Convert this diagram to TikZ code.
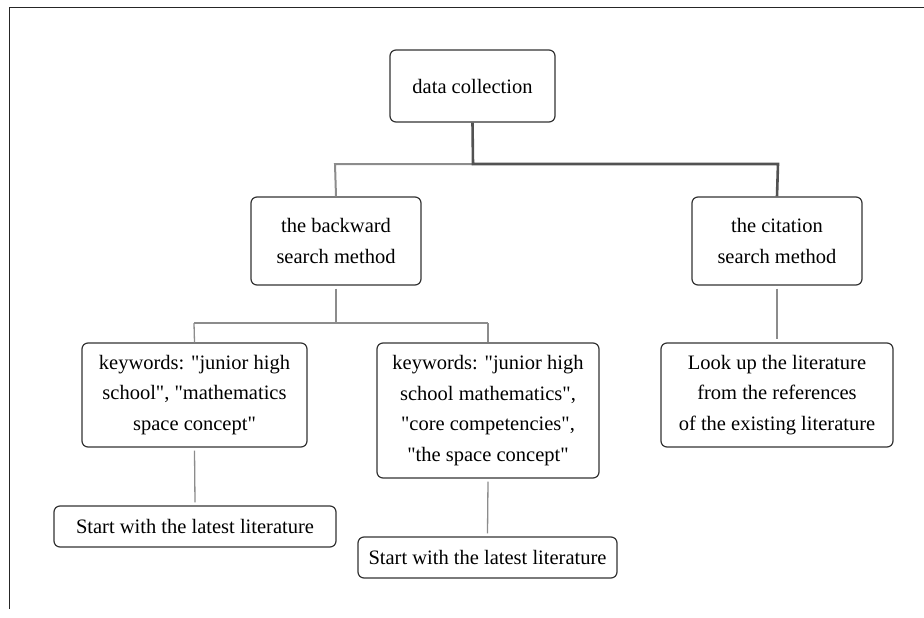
\documentclass[tikz,border=0pt]{standalone}
\usepackage{fontspec}
\setmainfont{Liberation Serif}
\newcommand\qq{\textquotedbl}
\begin{document}
\begin{tikzpicture}[x=1pt,y=-1pt,
  box/.style={draw=black!80,line width=1.2pt,rounded corners=6pt,align=center,inner sep=0pt,
    font=\fontsize{20.5}{30.5}\selectfont,text=black},
  main/.style={draw=black!68,line width=2.6pt},
  side/.style={draw=black!45,line width=2pt},
  thin/.style={draw=black!45,line width=1.3pt},
  frame/.style={draw=black!85,line width=1pt}]
\useasboundingbox (0,0) rectangle (924,618);
\coordinate (f1) at (9,609);
\coordinate (f2) at (9,7.5);
\coordinate (f3) at (924,7.5);
\draw[frame] (f1) -- (f2) -- (f3);

\node[box,minimum width=165pt,minimum height=72pt] (dc) at (472.5,86) {data collection};
\node[box,minimum width=170pt,minimum height=88pt] (bw) at (336,241) {the backward\\search method};
\node[box,minimum width=170pt,minimum height=88pt] (ct) at (777,241) {the citation\\search method};
\node[box,minimum width=225pt,minimum height=104pt] (k1) at (194.5,395) {keywords: \qq junior high\\school\qq, \qq mathematics\\space concept\qq};
\node[box,minimum width=222pt,minimum height=135pt] (k2) at (488,410.5) {keywords: \qq junior high\\school mathematics\qq,\\\qq core competencies\qq,\\\qq the space concept\qq};
\node[box,minimum width=232pt,minimum height=104pt] (lu) at (777,395) {Look up the literature\\from the references\\of the existing literature};
\node[box,minimum width=282pt,minimum height=41pt] (s1) at (195,526.5) {Start with the latest literature};
\node[box,minimum width=259pt,minimum height=41pt] (s2) at (487.5,557.5) {Start with the latest literature};

\coordinate (j0) at (473,164);
\coordinate (jl) at (335,164);
\coordinate (jr) at (778,164);
\draw[side] (j0) -- (jl) -- (bw.north);
\draw[main] (dc.south) -- (j0) -- (jr) -- (ct.north);

\coordinate (j1) at (336,323);
\coordinate (j1l) at (194,323);
\coordinate (j1r) at (488,323);
\draw[thin] ([yshift=-3pt]bw.south) -- (j1);
\draw[thin] (j1l) -- (j1r);
\draw[thin] (j1l) -- (k1.north);
\draw[thin] (j1r) -- (k2.north);
\draw[thin] ([yshift=-3pt]k1.south) -- ([yshift=3pt]s1.north);
\draw[thin] ([yshift=-3pt]k2.south) -- ([yshift=3pt]s2.north);
\draw[thin] ([yshift=-3pt]ct.south) -- ([yshift=3pt]lu.north);
\end{tikzpicture}
\end{document}
